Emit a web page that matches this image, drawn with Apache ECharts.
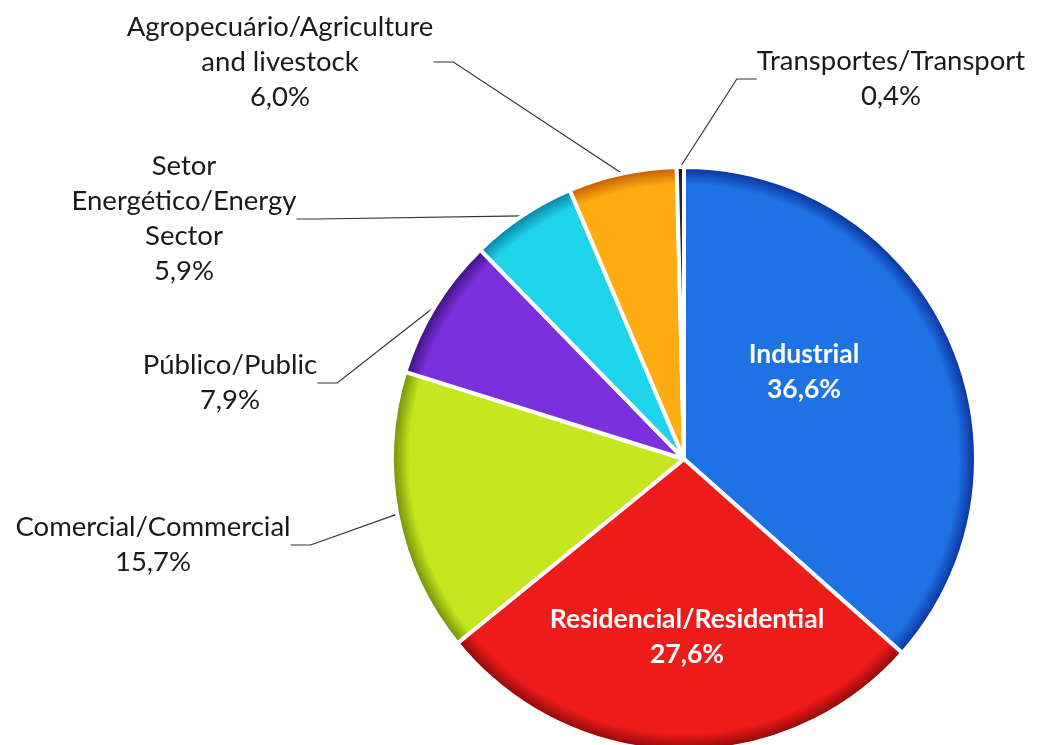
<!DOCTYPE html>
<html>
<head>
<meta charset="utf-8">
<script src="https://cdn.jsdelivr.net/npm/echarts@6/dist/echarts.min.js"></script>
<style>
html,body{margin:0;padding:0;background:#fff;}
#chart{width:1037px;height:745px;}
</style>
</head>
<body>
<div id="chart"></div>
<script>
const categories = [
  'Industrial',
  'Residencial/Residential',
  'Comercial/Commercial',
  'Público/Public',
  'Setor\nEnergético/Energy\nSector',
  'Agropecuário/Agriculture\nand livestock',
  'Transportes/Transport'
];
const values = [36.6, 27.6, 15.7, 7.9, 5.9, 6.0, 0.4];
const colors = ['#1f72e4', '#ee1b1b', '#c6e620', '#7a30da', '#1fd3ea', '#ffac14', '#2a2a2a'];
const rimColors = ['#0a2f9a', '#8a0808', '#6f8a08', '#3a107a', '#0a7fa0', '#c05a00', '#111111'];
const insideLabels = [true, true, false, false, false, false, false];
// label anchor positions (layout only)
const labelPos = [
  [804, 372], [687, 637], [153, 545], [230, 383], [184, 219], [280, 62], [891, 79]
];

const fmt = v => v.toFixed(1).replace('.', ',') + '%';
const CX = 684, CY = 459, R = 292;

const chart = echarts.init(document.getElementById('chart'), null, {renderer: 'canvas'});
chart.setOption({
  backgroundColor: '#ffffff',
  animation: false,
  series: [{
    type: 'pie',
    center: [CX, CY],
    radius: R,
    startAngle: 90,
    clockwise: true,
    avoidLabelOverlap: false,
    itemStyle: { borderColor: '#ffffff', borderWidth: 4 },
    label: {
      show: true,
      fontFamily: 'Lato, "Open Sans", sans-serif',
      fontSize: 27.5,
      lineHeight: 35,
      color: '#1a1a1a',
      align: 'center',
      formatter: p => p.name + '\n' + fmt(p.value)
    },
    labelLine: { show: true, length: 20, length2: 20, lineStyle: { color: '#333333', width: 1.2 } },
    labelLayout: function (params) {
      const i = params.dataIndex;
      return { x: labelPos[i][0], y: labelPos[i][1], align: 'center', verticalAlign: 'middle' };
    },
    data: categories.map((c, i) => ({
      name: c,
      value: values[i],
      itemStyle: {
        color: {
          type: 'radial', x: CX, y: CY, r: R, global: true,
          colorStops: [
            { offset: 0, color: colors[i] },
            { offset: 0.94, color: colors[i] },
            { offset: 1, color: rimColors[i] }
          ]
        }
      },
      label: insideLabels[i]
        ? { position: 'inside', color: '#ffffff', fontWeight: 'bold', fontSize: 26.5, lineHeight: 35 }
        : { position: 'outside' },
      labelLine: { show: !insideLabels[i] }
    }))
  }]
});
</script>
</body>
</html>
